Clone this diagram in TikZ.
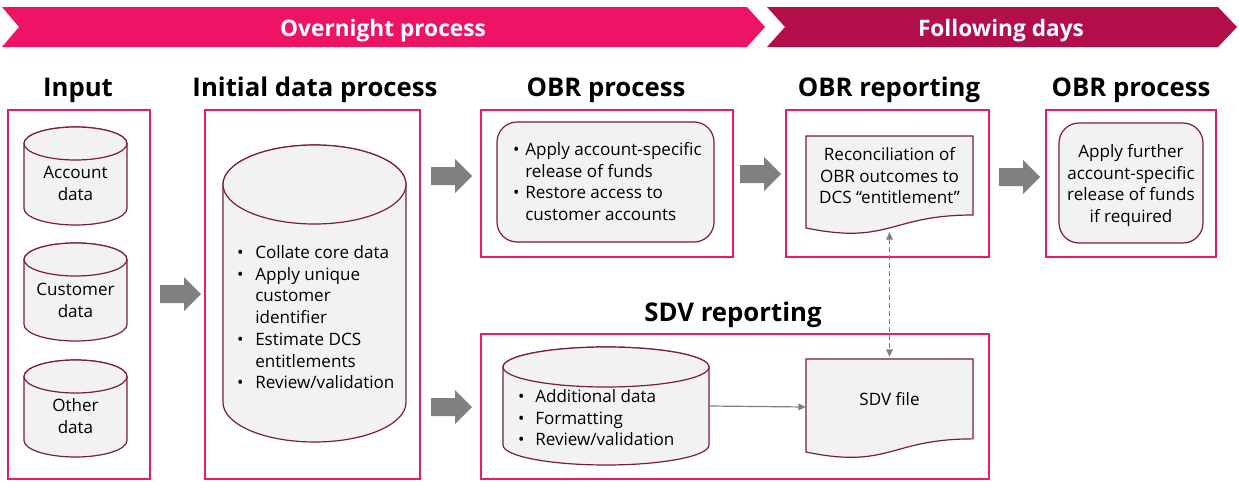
\documentclass[tikz,border=0pt]{standalone}
\usepackage{fontspec}
\setmainfont{Open Sans}
\usetikzlibrary{arrows.meta}

\definecolor{ovpink}{HTML}{ED1466}
\definecolor{fdays}{HTML}{B20F4A}
\definecolor{boxpink}{HTML}{EC1B63}
\definecolor{shapeline}{HTML}{7A1C3C}
\definecolor{shapefill}{HTML}{F2F2F2}
\definecolor{arrowgray}{HTML}{808080}

\tikzset{
  banner/.style={fill=#1, draw=none},
  bannertext/.style={text=white, font=\bfseries\fontsize{17}{20}\selectfont, anchor=base},
  heading/.style={font=\bfseries\fontsize{19.3}{22}\selectfont, anchor=base, inner sep=0},
  panel/.style={draw=boxpink, line width=1.5pt, inner sep=0},
  shapestyle/.style={draw=shapeline, fill=shapefill, line width=0.9pt},
  roundbox/.style={shapestyle, rounded corners=15pt, inner sep=0},
  anchorbox/.style={inner sep=0, draw=none},
  bodytext/.style={font=\fontsize{12.8}{16.3}\selectfont, inner sep=0},
  blockarrow/.style={fill=arrowgray, draw=none},
  thinarrow/.style={draw=arrowgray, line width=0.9pt, -{Triangle[length=5.5pt,width=5pt]}},
  dasharrow/.style={draw=arrowgray, line width=0.9pt, dash pattern=on 3.5pt off 2.5pt,
    {Triangle[length=5.5pt,width=5pt]}-{Triangle[length=5.5pt,width=5pt]}},
}

% bullet with a fixed hanging indent
\newcommand\bul[1]{\strut\makebox[#1][l]{\hspace{2.2pt}•}}
\newcommand\hang[1]{\strut\hspace*{#1}}

% grey block arrow: left end x, centre y
\newcommand\blockarr[2]{%
  \fill[blockarrow] (#1,#2-9) -- (#1+24,#2-9) -- (#1+24,#2-17) -- (#1+41,#2)
    -- (#1+24,#2+17) -- (#1+24,#2+9) -- (#1,#2+9) -- cycle;}

% database cylinder: x1, x2, top, bottom, ellipse y-radius
\newcommand\dbcyl[5]{%
  \pgfmathsetmacro\crx{(#2-#1)/2}%
  \pgfmathsetmacro\ccx{(#2+#1)/2}%
  \filldraw[shapestyle] (#1,#3+#5) -- (#1,#4-#5)
    arc[start angle=180, end angle=0, x radius=\crx, y radius=#5]
    -- (#2,#3+#5)
    arc[start angle=0, end angle=-180, x radius=\crx, y radius=#5] -- cycle;
  \draw[shapestyle] (\ccx,#3+#5) ellipse[x radius=\crx, y radius=#5];}

% document shape: x1, x2, top, height
\newcommand\docshape[4]{%
  \pgfmathsetmacro\dcx{(#2+#1)/2}%
  \filldraw[shapestyle] (#1,#3) -- (#2,#3) -- (#2,#3+0.802*#4)
    .. controls (\dcx,#3+0.802*#4) and (\dcx,#3+1.1075*#4) .. (#1,#3+0.934*#4) -- cycle;}

\begin{document}
\begin{tikzpicture}[x=0.75pt, y=0.75pt, yscale=-1]
\useasboundingbox (0,0) rectangle (1239,482);

% phase banners
\fill[banner=ovpink] (2,7) -- (747,7) -- (765,27) -- (747,47) -- (2,47) -- (19,27) -- cycle;
\fill[banner=fdays] (767,7) -- (1218,7) -- (1237,27) -- (1218,47) -- (767,47) -- (785,27) -- cycle;
\node[bannertext] (ovtitle) at (383,36) {Overnight process};
\node[bannertext] (fdtitle) at (1001,36) {Following days};

% column headings
\node[heading] (hinput) at (78,96) {Input};
\node[heading] (hinit) at (315,96) {Initial data process};
\node[heading] (hobr) at (606,96) {OBR process};
\node[heading] (hrep) at (889,96) {OBR reporting};
\node[heading] (hobr2) at (1131,96) {OBR process};
\node[heading] (hsdv) at (733,321) {SDV reporting};

% panels
\node[panel, minimum width=142*0.75pt, minimum height=369*0.75pt] (inpanel) at (79,294.5) {};
\node[panel, minimum width=215*0.75pt, minimum height=369*0.75pt] (initpanel) at (312.5,294.5) {};
\node[panel, minimum width=252*0.75pt, minimum height=147*0.75pt] (obrpanel) at (607,183.5) {};
\node[panel, minimum width=203*0.75pt, minimum height=147*0.75pt] (reppanel) at (887.5,183.5) {};
\node[panel, minimum width=170*0.75pt, minimum height=147*0.75pt] (obr2panel) at (1131,183.5) {};
\node[panel, minimum width=508*0.75pt, minimum height=145*0.75pt] (sdvpanel) at (735,406.5) {};

% input databases
\dbcyl{24}{127}{127}{225}{16.5}
\dbcyl{24}{127}{243}{341}{16.5}
\dbcyl{24}{127}{360}{457}{16.5}
\node[bodytext, align=center, anchor=north] (acc) at (75.5,163) {\strut Account\\\strut data};
\node[bodytext, align=center, anchor=north] (cust) at (75.5,280) {\strut Customer\\\strut data};
\node[bodytext, align=center, anchor=north] (oth) at (75.5,396) {\strut Other\\\strut data};

% initial data process database
\dbcyl{223}{406}{145}{442}{39.5}
\node[bodytext, align=left, anchor=north west] (initlist) at (234,243) {%
  \bul{15.75pt}Collate core data\\
  \bul{15.75pt}Apply unique\\
  \hang{15.75pt}customer\\
  \hang{15.75pt}identifier\\
  \bul{15.75pt}Estimate DCS\\
  \hang{15.75pt}entitlements\\
  \bul{15.75pt}Review/validation};

% OBR process
\node[roundbox, minimum width=217*0.75pt, minimum height=120*0.75pt] (obrbox) at (605.5,182) {};
\node[bodytext, align=left, anchor=north west] (obrlist) at (510,140) {%
  \bul{11.25pt}Apply account-specific\\
  \hang{11.25pt}release of funds\\
  \bul{11.25pt}Restore access to\\
  \hang{11.25pt}customer accounts};

% OBR reporting
\docshape{806}{973}{136}{98.5}
\node[anchorbox, minimum width=167*0.75pt, minimum height=96*0.75pt] (recdoc) at (889.5,184) {};
\node[bodytext, align=center, anchor=north] (rectext) at (889.5,145) {%
  \strut Reconciliation of\\\strut OBR outcomes to\\\strut DCS “entitlement”};

% further OBR process
\node[roundbox, minimum width=144*0.75pt, minimum height=120*0.75pt] (obr2box) at (1131,183) {};
\node[bodytext, align=center, anchor=north] (obr2text) at (1131,142) {%
  \strut Apply further\\\strut account-specific\\\strut release of funds\\\strut if required};

% SDV reporting
\dbcyl{503}{709}{347}{465}{20}
\node[anchorbox, minimum width=206*0.75pt, minimum height=118*0.75pt] (sdvcyl) at (606,406) {};
\node[bodytext, align=left, anchor=north west] (sdvlist) at (515,387) {%
  \bul{15pt}Additional data\\
  \bul{15pt}Formatting\\
  \bul{15pt}Review/validation};
\docshape{806}{973}{359}{99.6}
\node[anchorbox, minimum width=167*0.75pt, minimum height=100*0.75pt] (sdvdoc) at (889.5,407) {};
\node[bodytext, anchor=north] (sdvtext) at (889.5,390) {\strut SDV file};

% flow between stages
\blockarr{160}{294}
\blockarr{431}{176}
\blockarr{431}{407}
\blockarr{740}{174}
\blockarr{999}{177}

\draw[thinarrow] (sdvcyl.east) -- (sdvdoc.west);
\draw[dasharrow] (recdoc.south) -- (sdvdoc.north);

\end{tikzpicture}
\end{document}
